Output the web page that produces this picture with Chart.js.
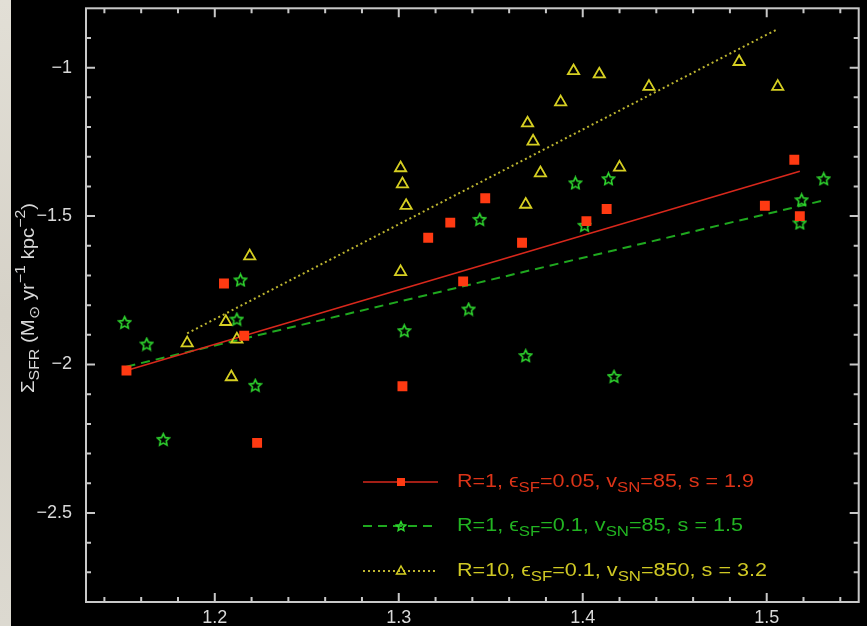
<!DOCTYPE html>
<html>
<head>
<meta charset="utf-8">
<script src="https://cdn.jsdelivr.net/npm/chart.js@4.4.1/dist/chart.umd.min.js"></script>
<style>
  html, body { margin: 0; padding: 0; background: #000; }
  #wrap { width: 867px; height: 626px; }
</style>
</head>
<body>
<div id="wrap"><canvas id="chart" width="867" height="626"></canvas></div>
<script>
// R=1, eps=0.05, vSN=85 (red squares)
const redX = [1.152, 1.205, 1.216, 1.223, 1.302, 1.316, 1.328, 1.335, 1.347, 1.367, 1.402, 1.413, 1.499, 1.515, 1.518];
const redY = [-2.020, -1.727, -1.903, -2.264, -2.073, -1.573, -1.522, -1.720, -1.440, -1.590, -1.517, -1.476, -1.465, -1.310, -1.500];

// R=1, eps=0.1, vSN=85 (green stars)
const greenX = [1.151, 1.163, 1.172, 1.212, 1.214, 1.222, 1.303, 1.338, 1.344, 1.369, 1.396, 1.401, 1.414, 1.417, 1.518, 1.519, 1.531];
const greenY = [-1.858, -1.931, -2.252, -1.847, -1.715, -2.070, -1.886, -1.813, -1.511, -1.970, -1.388, -1.531, -1.374, -2.040, -1.523, -1.445, -1.374];

// R=10, eps=0.1, vSN=850 (yellow triangles)
const yellowX = [1.185, 1.206, 1.209, 1.212, 1.219, 1.301, 1.301, 1.302, 1.304, 1.369, 1.370, 1.373, 1.377, 1.388, 1.395, 1.409, 1.420, 1.436, 1.485, 1.506];
const yellowY = [-1.928, -1.856, -2.042, -1.915, -1.635, -1.338, -1.688, -1.392, -1.465, -1.461, -1.187, -1.248, -1.355, -1.116, -1.011, -1.022, -1.336, -1.064, -0.980, -1.064];

// fitted lines (end points)
const redFitX = [1.152, 1.518];
const redFitY = [-2.020, -1.349];
const greenFitX = [1.152, 1.531];
const greenFitY = [-2.007, -1.447];
const yellowFitX = [1.185, 1.505];
const yellowFitY = [-1.895, -0.873];

// axes
const xRange = [1.13, 1.55];
const yRange = [-2.8, -0.8];
const xSteps = [0.02, 0.1];   // minor, labelled
const ySteps = [0.1, 0.5];

const legendLabels = [
    [['R=1, ϵ', 0], ['SF', -1], ['=0.05, v', 0], ['SN', -1], ['=85, s = 1.9', 0]],
    [['R=1, ϵ', 0], ['SF', -1], ['=0.1, v', 0], ['SN', -1], ['=85, s = 1.5', 0]],
    [['R=10, ϵ', 0], ['SF', -1], ['=0.1, v', 0], ['SN', -1], ['=850, s = 3.2', 0]]
];
const yTitle = [['Σ', 0], ['SFR', -1], [' (M', 0], ['⊙', -1], [' yr', 0], ['−1', 1], [' kpc', 0], ['−2', 1], [')', 0]];

const FONT = '"Liberation Sans", Arial, sans-serif';
const AXIS_COLOR = '#c8c8c8';

const toPoints = (xs, ys) => xs.map((x, i) => ({ x: x, y: ys[i] }));
const isMultiple = (v, step) => Math.abs(v / step - Math.round(v / step)) < 1e-6;

// tick values every `step` strictly inside the range
function stepTicks(range, step) {
    const out = [];
    const first = Math.ceil(range[0] / step - 1e-9);
    const last = Math.floor(range[1] / step + 1e-9);
    for (let k = first; k <= last; k++) {
        const v = Math.round(k * step * 1000) / 1000;
        if (v > range[0] && v < range[1]) out.push({ value: v });
    }
    return out;
}

function makeStar(color, size) {
    const c = document.createElement('canvas');
    c.width = size; c.height = size;
    const g = c.getContext('2d');
    const m = size / 2;
    g.strokeStyle = color;
    g.lineWidth = 1.6;
    g.lineJoin = 'miter';
    g.beginPath();
    for (let i = 0; i < 10; i++) {
        const r = i % 2 === 0 ? m - 1.2 : (m - 1.2) * 0.48;
        const a = -Math.PI / 2 + i * Math.PI / 5;
        const px = m + r * Math.cos(a), py = m + 0.6 + r * Math.sin(a);
        if (i === 0) g.moveTo(px, py); else g.lineTo(px, py);
    }
    g.closePath();
    g.stroke();
    return c;
}

const starImg = makeStar('#2fd62f', 15);
const starSmall = makeStar('#2fd62f', 12);

// draw text with sub/superscripts, stretched to a given width
function drawRuns(ctx, runs, x, y, size, color, targetW) {
    const fontOf = k => (k === 0 ? size : Math.round(size * 0.78)) + 'px ' + FONT;
    let w = 0;
    runs.forEach(r => { ctx.font = fontOf(r[1]); w += ctx.measureText(r[0]).width; });
    const sx = targetW ? targetW / w : 1;
    ctx.save();
    ctx.translate(x, y);
    ctx.scale(sx, 1);
    ctx.fillStyle = color;
    ctx.textBaseline = 'middle';
    ctx.textAlign = 'left';
    let cx = 0;
    runs.forEach(r => {
        ctx.font = fontOf(r[1]);
        const dy = r[1] === -1 ? size * 0.36 : (r[1] === 1 ? -size * 0.42 : 0);
        ctx.fillText(r[0], cx, dy);
        cx += ctx.measureText(r[0]).width;
    });
    ctx.restore();
}

const backdrop = {
    id: 'backdrop',
    beforeDraw(chart) {
        const ctx = chart.ctx;
        ctx.save();
        ctx.fillStyle = '#000';
        ctx.fillRect(0, 0, chart.width, chart.height);
        const grad = ctx.createLinearGradient(0, 0, 0, chart.height);
        grad.addColorStop(0, '#e2dfd6');
        grad.addColorStop(0.5, '#d6d2c8');
        grad.addColorStop(1, '#dcd9d0');
        ctx.fillStyle = grad;
        ctx.fillRect(0, 0, 11, chart.height);
        ctx.restore();
    }
};

const frame = {
    id: 'frame',
    afterDatasetsDraw(chart) {
        const ctx = chart.ctx;
        const a = chart.chartArea;
        ctx.save();
        ctx.strokeStyle = AXIS_COLOR;
        ctx.lineWidth = 2;
        ctx.strokeRect(a.left, a.top, a.right - a.left, a.bottom - a.top);
        ctx.beginPath();
        chart.scales.x.ticks.forEach(t => {
            const px = chart.scales.x.getPixelForValue(t.value);
            const len = t.label !== '' ? 9 : 5;
            ctx.moveTo(px, a.bottom); ctx.lineTo(px, a.bottom - len);
            ctx.moveTo(px, a.top); ctx.lineTo(px, a.top + len);
        });
        chart.scales.y.ticks.forEach(t => {
            const py = chart.scales.y.getPixelForValue(t.value);
            const len = t.label !== '' ? 9 : 5;
            ctx.moveTo(a.left, py); ctx.lineTo(a.left + len, py);
            ctx.moveTo(a.right, py); ctx.lineTo(a.right - len, py);
        });
        ctx.stroke();
        ctx.restore();
    }
};

const annotations = {
    id: 'annotations',
    afterDraw(chart) {
        const ctx = chart.ctx;
        const sets = chart.data.datasets;
        // legend: line sample, marker, label
        const rows = [
            { line: sets[3], marker: 'rect', color: '#dc3418', y: 482, w: 297 },
            { line: sets[4], marker: 'star', color: '#22b422', y: 526, w: 286 },
            { line: sets[5], marker: 'tri', color: '#cfc824', y: 571, w: 310 }
        ];
        rows.forEach((r, i) => {
            ctx.save();
            ctx.strokeStyle = r.line.borderColor;
            ctx.lineWidth = r.line.borderWidth;
            ctx.setLineDash(r.line.borderDash || []);
            ctx.beginPath();
            ctx.moveTo(363, r.y); ctx.lineTo(438, r.y);
            ctx.stroke();
            ctx.setLineDash([]);
            if (r.marker === 'rect') {
                ctx.fillStyle = sets[0].backgroundColor;
                ctx.fillRect(397, r.y - 4, 8, 8);
            } else if (r.marker === 'star') {
                ctx.drawImage(starSmall, 401 - 6, r.y - 6);
            } else {
                ctx.strokeStyle = sets[2].borderColor;
                ctx.lineWidth = 1.5;
                ctx.beginPath();
                ctx.moveTo(401, r.y - 5); ctx.lineTo(405.5, r.y + 3); ctx.lineTo(396.5, r.y + 3);
                ctx.closePath(); ctx.stroke();
            }
            ctx.restore();
            drawRuns(ctx, legendLabels[i], 457, r.y, 18, r.color, r.w);
        });
        // y axis title, rotated
        ctx.save();
        ctx.translate(29, 393);
        ctx.rotate(-Math.PI / 2);
        drawRuns(ctx, yTitle, 0, 0, 18, '#d8d8d8', 190);
        ctx.restore();
    }
};

const tickFont = { family: FONT, size: 18 };

new Chart(document.getElementById('chart'), {
    type: 'scatter',
    data: {
        datasets: [
            {
                data: toPoints(redX, redY),
                pointStyle: 'rect', pointRadius: 7, pointHoverRadius: 7,
                backgroundColor: '#ff3a12', borderWidth: 0
            },
            {
                data: toPoints(greenX, greenY),
                pointStyle: starImg, pointRadius: 7,
                backgroundColor: 'transparent', borderColor: '#2fd62f'
            },
            {
                data: toPoints(yellowX, yellowY),
                pointStyle: 'triangle', pointRadius: 6.5, pointHoverRadius: 6.5,
                backgroundColor: 'transparent', borderColor: '#d6cf22', borderWidth: 1.8
            },
            {
                data: toPoints(redFitX, redFitY), showLine: true, pointRadius: 0,
                borderColor: '#d8281c', borderWidth: 1.6
            },
            {
                data: toPoints(greenFitX, greenFitY), showLine: true, pointRadius: 0,
                borderColor: '#1fa81f', borderWidth: 2, borderDash: [9, 6]
            },
            {
                data: toPoints(yellowFitX, yellowFitY), showLine: true, pointRadius: 0,
                borderColor: '#bdb530', borderWidth: 2, borderDash: [2, 3]
            }
        ]
    },
    options: {
        responsive: false,
        animation: false,
        events: [],
        layout: { padding: { top: 6, right: 5, left: 0, bottom: 0 } },
        plugins: {
            legend: { display: false },
            tooltip: { enabled: false }
        },
        scales: {
            x: {
                type: 'linear',
                min: xRange[0], max: xRange[1],
                grid: { display: false, drawTicks: false },
                border: { display: false },
                afterBuildTicks: s => { s.ticks = stepTicks(xRange, xSteps[0]); },
                ticks: {
                    autoSkip: false, maxRotation: 0,
                    padding: 5, color: '#d8d8d8', font: tickFont,
                    callback: v => isMultiple(v, xSteps[1]) ? v.toFixed(1) : ''
                },
                afterFit: s => {
                    s.height = 24;
                    s.paddingLeft = 0; s.paddingRight = 0;
                }
            },
            y: {
                type: 'linear',
                min: yRange[0], max: yRange[1],
                grid: { display: false, drawTicks: false },
                border: { display: false },
                afterBuildTicks: s => { s.ticks = stepTicks(yRange, ySteps[0]); },
                ticks: {
                    autoSkip: false,
                    padding: 14, color: '#d8d8d8', font: tickFont,
                    callback: v => isMultiple(v, ySteps[1]) ? String(Math.round(v * 10) / 10).replace('-', '−') : ''
                },
                afterFit: s => {
                    s.width = 86;
                    s.paddingTop = 0; s.paddingBottom = 0;
                }
            }
        }
    },
    plugins: [backdrop, frame, annotations]
});
</script>
</body>
</html>
